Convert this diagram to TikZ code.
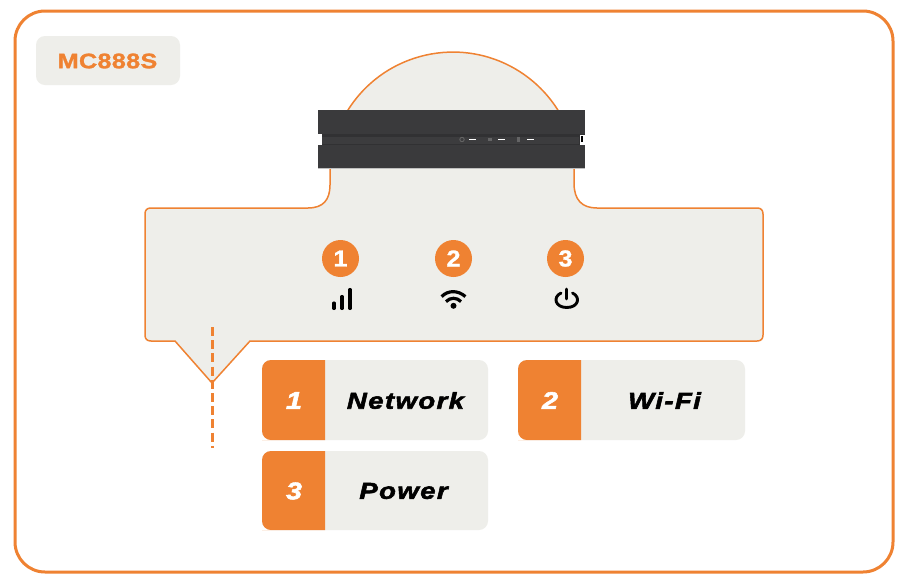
\documentclass[tikz,border=0pt]{standalone}
\usepackage{fontspec}
\setmainfont{Liberation Sans}
\newfontfamily\labfont[FakeStretch=1.2,LetterSpace=1.5,FakeBold=1.4]{Liberation Sans Bold}
\newfontfamily\tagfont[FakeStretch=1.2,LetterSpace=6,FakeBold=2.4]{Liberation Sans Bold Italic}
\newfontfamily\numfont[FakeStretch=1.1,FakeBold=1.2]{Liberation Sans Bold}
\definecolor{org}{HTML}{EF8232}
\definecolor{pale}{HTML}{EEEEEA}
\definecolor{dev}{HTML}{3A3A3C}
\definecolor{devslot}{HTML}{313133}
\definecolor{devmid}{HTML}{3C3C3E}
\tikzset{
  x=1pt,y=-1pt,
  frame/.style={draw=org,line width=3pt,rounded corners=30pt,fill=white},
  paneltag/.style={fill=pale,rounded corners=9pt},
  numbadge/.style={circle,fill=org,minimum size=37pt,inner sep=0pt,text=white,font=\numfont\fontsize{23}{23}\selectfont},
  tagtext/.style={font=\tagfont\fontsize{23}{23}\selectfont,text=black,inner sep=0pt,anchor=center},
  tagnum/.style={font=\tagfont\fontsize{24}{24}\selectfont,text=white,inner sep=0pt,anchor=center},
  icon/.style={line width=3.1pt,black,line cap=round},
  led/.style={white,line width=1.8pt},
  ledmark/.style={fill=gray!60!dev},
  guide/.style={org,line width=3pt,dash pattern=on 9pt off 4.2pt},
}
\begin{document}
\begin{tikzpicture}
\useasboundingbox (0,0) rectangle (908,582);
\fill[white] (0,0) rectangle (908,582);
\draw[frame] (15,11) rectangle (893,572);
% model tag
\fill[paneltag] (36,36) rectangle (180,85);
\node[font=\labfont\fontsize{21}{21}\selectfont,text=org,inner sep=0pt] (model) at (107.5,61) {MC888S};
% callout
\draw[org,line width=1.5pt,fill=pale,line join=round]
  (348,110) arc[start angle=212.2,end angle=327.8,radius=124]
  -- (574,168) -- (574,183) .. controls (574,200) and (582,208) .. (597,208)
  -- (757,208) .. controls (761,208) and (763,210) .. (763,214)
  -- (763,335) .. controls (763,339) and (761,341) .. (757,341)
  -- (250,341) -- (212,383) -- (175,341)
  -- (151,341) .. controls (147,341) and (145,339) .. (145,335)
  -- (145,214) .. controls (145,210) and (147,208) .. (151,208)
  -- (308,208) .. controls (323,208) and (330,200) .. (330,185)
  -- (330,168) -- cycle;
% dashed guide
\coordinate (gtop) at (212,327);
\coordinate (gend) at (212,448);
\draw[guide] (gtop) -- (gend);
% device
\fill[dev] (318,110) rectangle (585,168);
\fill[black!25] (318,167.5) rectangle (585,168.7);
\fill[devslot] (318,134) rectangle (585,145);
\fill[devmid] (322,136.5) rectangle (579,144);
\fill[white] (318,134) rectangle (321.5,145);
\fill[white] (580,134.5) rectangle (585,145);
\fill[black] (581,136) rectangle (583,142);
\draw[led] (469,139.5) -- (476,139.5);
\draw[led] (498,139.5) -- (505,139.5);
\draw[led] (527,139.5) -- (534,139.5);
\draw[gray!60!dev,line width=.9pt] (462,139.5) circle (2.2pt);
\fill[ledmark] (488,138) rectangle (492,141);
\fill[ledmark] (516.5,137) rectangle (520,141.5);
% badges
\node[numbadge] (b1) at (340.5,258.5) {1};
\node[numbadge] (b2) at (453.5,258.5) {2};
\node[numbadge] (b3) at (565.5,258.5) {3};
% signal bars
\draw[icon] (334,303) -- (334,308.5) (342,296.5) -- (342,308.5) (350,289.5) -- (350,308.5);
% wifi
\draw[icon,line cap=butt,line width=3.2pt] (441.6,296.6) .. controls (448,290) and (458,290) .. (465.4,296.6);
\draw[icon,line cap=butt,line width=3.2pt] (446,301.6) .. controls (450,297.2) and (457,297.2) .. (461,301.6);
\fill[black] (453.5,305.8) circle (3pt);
% power
\draw[icon,line width=2.9pt] (561,293) .. controls (552.5,297) and (555,307.5) .. (566.8,307.5) .. controls (578.5,307.5) and (581,297) .. (572.5,293);
\draw[icon,line width=2.9pt] (566.8,289) -- (566.8,299);
% tags
\fill[paneltag] (262,360) rectangle (488,440);
\fill[org] (325,360) -- (271,360) [rounded corners=9pt] -- (262,360) -- (262,440) -- (271,440) [sharp corners] -- (325,440) -- cycle;
\node[tagnum] (n1) at (294,400.5) {1};
\node[tagtext] (t1) at (405.5,400.5) {Network};
\fill[paneltag] (518,360) rectangle (745,440);
\fill[org] (581,360) -- (527,360) [rounded corners=9pt] -- (518,360) -- (518,440) -- (527,440) [sharp corners] -- (581,440) -- cycle;
\node[tagnum] (n2) at (550,400.5) {2};
\node[tagtext] (t2) at (664.5,400.5) {Wi-Fi};
\fill[paneltag] (262,451) rectangle (488,530);
\fill[org] (325,451) -- (271,451) [rounded corners=9pt] -- (262,451) -- (262,530) -- (271,530) [sharp corners] -- (325,530) -- cycle;
\node[tagnum] (n3) at (294,491) {3};
\node[tagtext] (t3) at (403.5,491) {Power};
\end{tikzpicture}
\end{document}
